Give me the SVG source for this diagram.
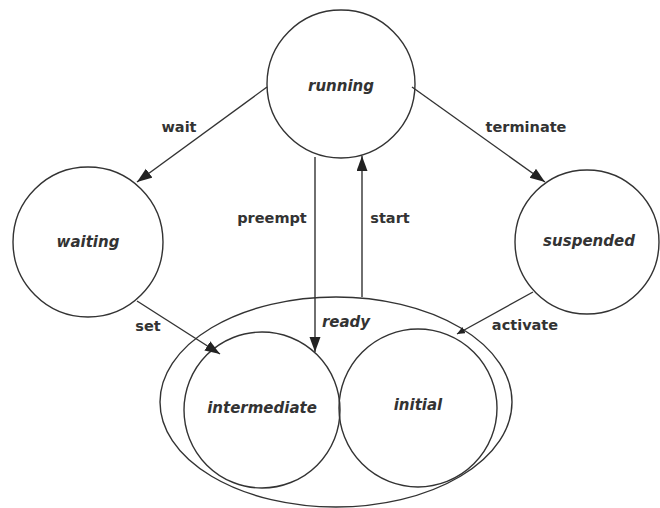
<svg xmlns="http://www.w3.org/2000/svg" width="660" height="508" viewBox="0 0 660 508">
<style>
.n{fill:none;stroke:#333;stroke-width:1.4}
.nl{font-family:"DejaVu Sans",sans-serif;font-weight:bold;font-style:italic;font-size:15px;fill:#333;text-anchor:middle;dominant-baseline:central}
.e{fill:none;stroke:#333;stroke-width:1.4}
.el{font-family:"DejaVu Sans",sans-serif;font-weight:bold;font-size:14.5px;fill:#333;text-anchor:middle;dominant-baseline:central}
</style>
<defs>
<marker id="ah" markerUnits="userSpaceOnUse" markerWidth="16" markerHeight="12" refX="15" refY="5.5" orient="auto">
<path d="M0,0 L15,5.5 L0,11 Z" fill="#222"/>
</marker>
<marker id="ahs" markerUnits="userSpaceOnUse" markerWidth="10" markerHeight="8" refX="8" refY="3.5" orient="auto">
<path d="M0,0 L8,3.5 L0,7 Z" fill="#222"/>
</marker>
</defs>
<rect width="660" height="508" fill="#fff"/>
<g id="ready">
<ellipse class="n" cx="336" cy="402" rx="176" ry="105"/>
<text class="nl" x="346" y="322">ready</text>
</g>
<g id="running">
<circle class="n" cx="341" cy="84" r="74"/>
<text class="nl" x="341" y="86">running</text>
</g>
<g id="waiting">
<circle class="n" cx="88" cy="242" r="75"/>
<text class="nl" x="88" y="242">waiting</text>
</g>
<g id="suspended">
<circle class="n" cx="587" cy="242" r="72"/>
<text class="nl" x="589" y="241">suspended</text>
</g>
<g id="intermediate">
<circle class="n" cx="262" cy="410" r="78"/>
<text class="nl" x="262" y="408">intermediate</text>
</g>
<g id="initial">
<circle class="n" cx="418" cy="408" r="79"/>
<text class="nl" x="418" y="405">initial</text>
</g>
<g id="connectors">
<path class="e" d="M267,87 L137,182" marker-end="url(#ah)"/>
<path class="e" d="M412,87 L545,182" marker-end="url(#ah)"/>
<path class="e" d="M315,157 L315,352" stroke="#777" stroke-width="2" marker-end="url(#ah)"/>
<path class="e" d="M362,297 L362,156" marker-end="url(#ah)"/>
<path class="e" d="M137,301 L220,354" marker-end="url(#ah)"/>
<path class="e" d="M533,292 L457,334" marker-end="url(#ahs)"/>
<text class="el" x="179" y="127">wait</text>
<text class="el" x="526" y="127">terminate</text>
<text class="el" x="272" y="218">preempt</text>
<text class="el" x="390" y="218">start</text>
<text class="el" x="148" y="326">set</text>
<text class="el" x="525" y="325">activate</text>
</g>
</svg>
